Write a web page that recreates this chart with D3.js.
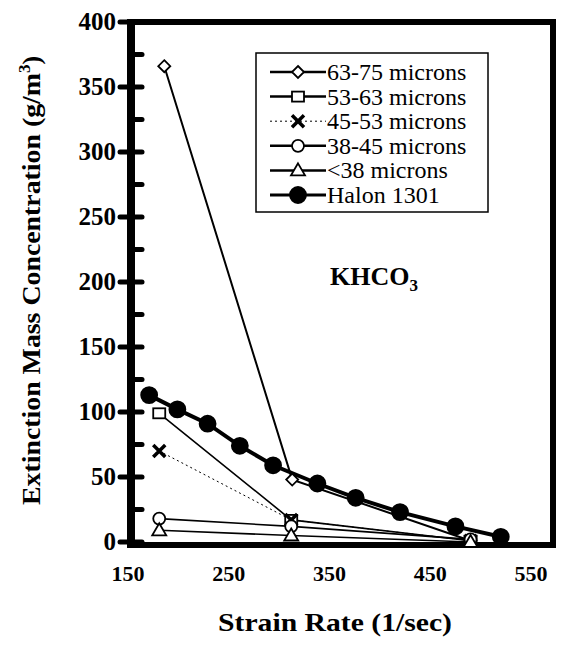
<!DOCTYPE html>
<html>
<head>
<meta charset="utf-8">
<script src="https://d3js.org/d3.v7.min.js"></script>
<style>
  body { margin: 0; background: #fff; }
  text { font-family: "Liberation Serif", "Times New Roman", serif; fill: #000; }
</style>
</head>
<body>
<svg width="580" height="654"></svg>
<script>
// data: [strain rate, concentration]
var names = ["63-75 microns", "53-63 microns", "45-53 microns", "38-45 microns", "<38 microns", "Halon 1301"];
var s6375 = [[186, 366], [313, 48], [490, 1]];
var s5363 = [[181, 99], [312, 17], [490, 1]];
var s4553 = [[181, 70], [312, 17], [490, 1]];
var s3845 = [[181, 18], [312, 12], [490, 2]];
var s38 = [[181, 9], [312, 5], [490, 0]];
var halon = [[171, 113], [199, 102], [229, 91], [261, 74], [294, 59], [338, 45], [376, 34], [420, 23], [475, 12], [520, 4]];
var xTicks = [150, 250, 350, 450, 550];
var yTicks = [0, 50, 100, 150, 200, 250, 300, 350, 400];
var yMinor = [25, 75, 125, 175, 225, 275, 325, 375];

var series = [
  {name: names[0], data: s6375, sym: "diamond", w: 2, dash: null},
  {name: names[1], data: s5363, sym: "square", w: 1.6, dash: null},
  {name: names[2], data: s4553, sym: "cross", w: 1, dash: "2,3"},
  {name: names[3], data: s3845, sym: "circle", w: 1.6, dash: null},
  {name: names[4], data: s38, sym: "triangle", w: 1.6, dash: null},
  {name: names[5], data: halon, sym: "dot", w: 4, dash: null}
];

var svg = d3.select("svg");
var fL = 131, fR = 553, fT = 22, fB = 545;

var x = d3.scaleLinear().domain([150, 550]).range([128, 531]);
var y = d3.scaleLinear().domain([0, 400]).range([542, 22]);

var line = d3.line().x(function(d) { return x(d[0]); }).y(function(d) { return y(d[1]); });

// frame
svg.append("rect")
  .attr("x", fL).attr("y", fT)
  .attr("width", fR - fL).attr("height", fB - fT)
  .attr("fill", "none").attr("stroke", "#000").attr("stroke-width", 6);
svg.append("line").attr("x1", fL).attr("x2", fL).attr("y1", fT - 3).attr("y2", fB + 3)
  .attr("stroke", "#000").attr("stroke-width", 8);

// y ticks
svg.selectAll(".ymaj").data(yTicks).enter().append("line")
  .attr("x1", fL - 11).attr("x2", fL + 11)
  .attr("y1", function(d) { return y(d); }).attr("y2", function(d) { return y(d); })
  .attr("stroke", "#000").attr("stroke-width", 5).attr("stroke-linecap", "round");
svg.selectAll(".ymin").data(yMinor).enter().append("line")
  .attr("x1", fL).attr("x2", fL + 11)
  .attr("y1", function(d) { return y(d); }).attr("y2", function(d) { return y(d); })
  .attr("stroke", "#000").attr("stroke-width", 5).attr("stroke-linecap", "round");

svg.selectAll(".ylab").data(yTicks).enter().append("text")
  .attr("x", 116).attr("y", function(d) { return y(d) + 8; })
  .attr("text-anchor", "end").attr("font-size", 25).attr("font-weight", "bold")
  .text(function(d) { return d; });

svg.selectAll(".xlab").data(xTicks).enter().append("text")
  .attr("x", function(d) { return x(d); }).attr("y", 581)
  .attr("text-anchor", "middle").attr("font-size", 22).attr("font-weight", "bold")
  .text(function(d) { return d; });

// axis titles
svg.append("text").attr("x", 218).attr("y", 631)
  .attr("font-size", 25).attr("font-weight", "bold")
  .attr("textLength", 234).attr("lengthAdjust", "spacingAndGlyphs")
  .text("Strain Rate (1/sec)");

var yt = svg.append("text")
  .attr("transform", "translate(40,505) rotate(-90)")
  .attr("font-size", 26).attr("font-weight", "bold");
yt.append("tspan").attr("textLength", 432).attr("lengthAdjust", "spacingAndGlyphs")
  .text("Extinction Mass Concentration (g/m");
yt.append("tspan").attr("dy", -10).attr("font-size", 17).text("3");
yt.append("tspan").attr("dy", 10).text(")");

// label
var kh = svg.append("text").attr("x", 330).attr("y", 285)
  .attr("font-size", 26).attr("font-weight", "bold");
kh.append("tspan").text("KHCO");
kh.append("tspan").attr("dy", 6).attr("font-size", 17).text("3");

// markers
function marker(g, sym, cx, cy) {
  var st = {stroke: "#000", "stroke-width": 1.8, fill: "#fff"};
  var m;
  if (sym === "diamond") {
    m = g.append("path").attr("d", "M" + cx + "," + (cy - 6) + "L" + (cx + 6) + "," + cy + "L" + cx + "," + (cy + 6) + "L" + (cx - 6) + "," + cy + "Z");
  } else if (sym === "square") {
    m = g.append("rect").attr("x", cx - 6).attr("y", cy - 5).attr("width", 12).attr("height", 10);
  } else if (sym === "cross") {
    m = g.append("path").attr("d", "M" + (cx - 6) + "," + (cy - 6) + "L" + (cx + 6) + "," + (cy + 6) + "M" + (cx + 6) + "," + (cy - 6) + "L" + (cx - 6) + "," + (cy + 6));
    st["stroke-width"] = 3.5;
  } else if (sym === "circle") {
    m = g.append("circle").attr("cx", cx).attr("cy", cy).attr("r", 6);
  } else if (sym === "triangle") {
    m = g.append("path").attr("d", "M" + cx + "," + (cy - 7) + "L" + (cx + 7) + "," + (cy + 5) + "L" + (cx - 7) + "," + (cy + 5) + "Z");
  } else {
    m = g.append("circle").attr("cx", cx).attr("cy", cy).attr("r", 8);
    st.fill = "#000";
  }
  for (var k in st) m.attr(k, st[k]);
}

var plot = svg.append("g");
series.forEach(function(s) {
  plot.append("path").datum(s.data)
    .attr("d", line).attr("fill", "none").attr("stroke", "#000")
    .attr("stroke-width", s.w).attr("stroke-dasharray", s.dash);
});
series.forEach(function(s) {
  s.data.forEach(function(d) { marker(plot, s.sym, x(d[0]), y(d[1])); });
});

// legend
var lg = svg.append("g");
lg.append("rect").attr("x", 256).attr("y", 53).attr("width", 232).attr("height", 159)
  .attr("fill", "#fff").attr("stroke", "#000").attr("stroke-width", 1.5);
series.forEach(function(s, i) {
  var cy = 72 + i * 24.6;
  lg.append("line").attr("x1", 270).attr("x2", 326).attr("y1", cy).attr("y2", cy)
    .attr("stroke", "#000").attr("stroke-width", s.w > 2 ? 3 : (s.sym === "cross" ? 1 : 2.5))
    .attr("stroke-dasharray", s.dash);
  marker(lg, s.sym, 298, cy);
  lg.append("text").attr("x", 327).attr("y", cy + 8).attr("font-size", 24)
    .text(s.name);
});
</script>
</body>
</html>
